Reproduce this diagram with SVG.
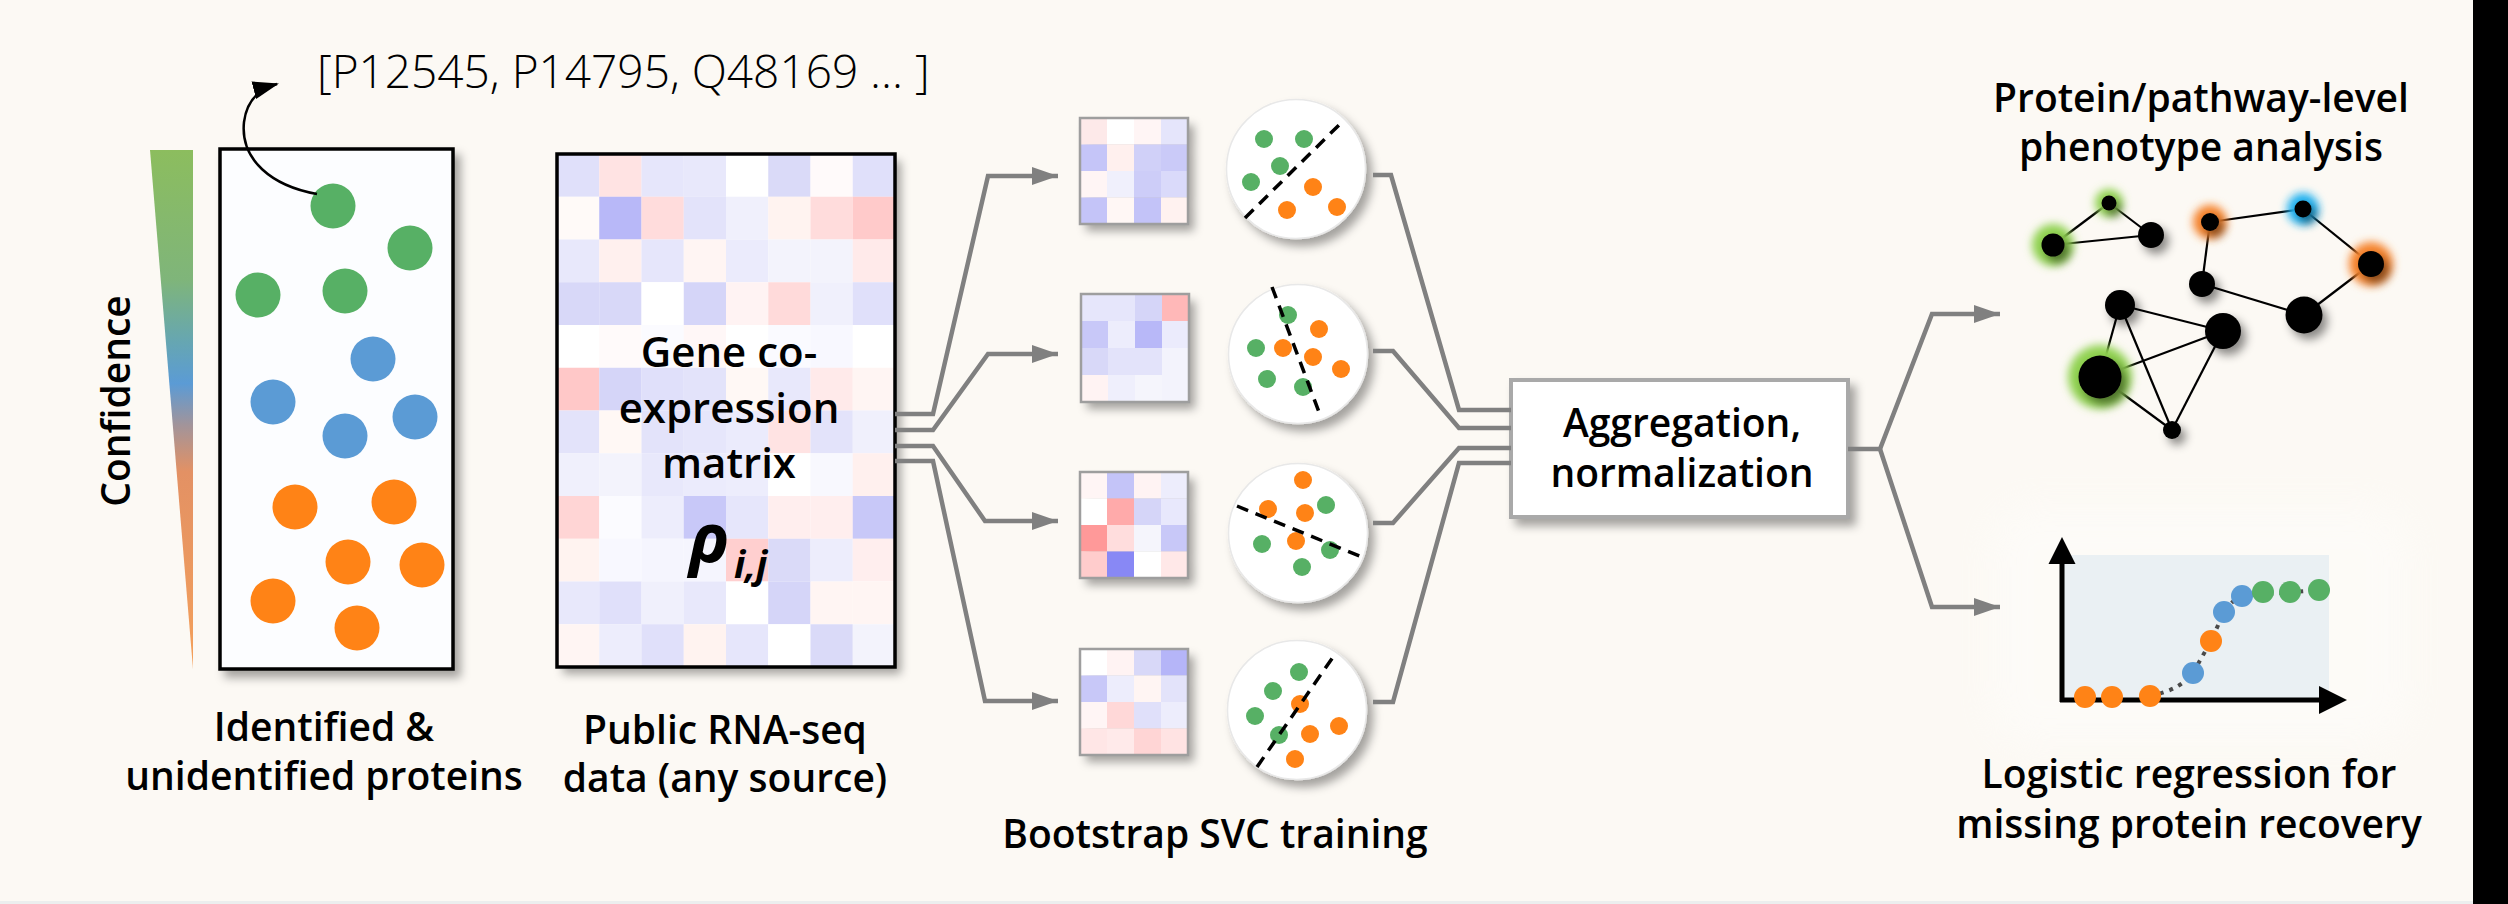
<svg xmlns="http://www.w3.org/2000/svg" width="2508" height="904" viewBox="0 0 2508 904">
<defs>
<style>
.lbl{font-family:"Open Sans","Noto Sans","DejaVu Sans",sans-serif;font-size:39px;font-weight:600;fill:#000;text-anchor:middle}
.mtx{font-family:"Open Sans","Noto Sans","DejaVu Sans",sans-serif;font-size:42px;font-weight:600;fill:#000;text-anchor:middle}
.conn{fill:none;stroke:#808080;stroke-width:4.5;stroke-linejoin:miter}
.g{fill:#57b065}.b{fill:#5b9bd5}.o{fill:#ff8316}
.sd{fill:none;stroke:#000;stroke-width:3.5;stroke-dasharray:12 8}
.svc{fill:#fff;stroke:#e8e8e8;stroke-width:1.5}
.sm{stroke:#9e9e9e;stroke-width:2.5;fill:none}
.edge{stroke:#000;stroke-width:2.2}
.nd{fill:#000}
</style>
<filter id="shadow" x="-20%" y="-20%" width="150%" height="150%">
<feDropShadow dx="6" dy="7" stdDeviation="5" flood-color="#000" flood-opacity="0.35"/>
</filter>
<filter id="nshadow" x="-60%" y="-60%" width="250%" height="250%">
<feDropShadow dx="5" dy="6" stdDeviation="5" flood-color="#000" flood-opacity="0.45"/>
</filter>
<filter id="glow" x="-80%" y="-80%" width="260%" height="260%">
<feGaussianBlur stdDeviation="4.5"/>
</filter>
<filter id="soft" x="-20%" y="-20%" width="140%" height="140%">
<feGaussianBlur stdDeviation="18"/>
</filter>
<linearGradient id="conf" x1="0" y1="150" x2="0" y2="669" gradientUnits="userSpaceOnUse">
<stop offset="0" stop-color="#8cbd5e"/>
<stop offset="0.25" stop-color="#7fb57a"/>
<stop offset="0.37" stop-color="#66a6b2"/>
<stop offset="0.45" stop-color="#5b9bd5"/>
<stop offset="0.53" stop-color="#a2949a"/>
<stop offset="0.62" stop-color="#e39164"/>
<stop offset="1" stop-color="#f4a05a"/>
</linearGradient>
<marker id="arr" markerUnits="userSpaceOnUse" markerWidth="26" markerHeight="18" refX="26" refY="9" orient="auto">
<path d="M0,0 L26,9 L0,18 z" fill="#808080"/>
</marker>
<marker id="arrk" markerUnits="userSpaceOnUse" markerWidth="26" markerHeight="18" refX="24" refY="9" orient="auto">
<path d="M0,0 L26,9 L0,18 z" fill="#000"/>
</marker>
</defs>

<rect x="0" y="0" width="2473" height="904" fill="#fcf9f4"/>
<rect x="0" y="901" width="2473" height="3" fill="#eceeee"/>
<rect x="2473" y="0" width="35" height="904" fill="#000"/>

<g id="confidence">
<polygon points="150,150 193,150 193,669" fill="url(#conf)"/>
<text class="lbl" transform="translate(130,401) rotate(-90)">Confidence</text>
</g>

<g id="proteins">
<rect x="220" y="149" width="233" height="520" fill="#fcfdff" stroke="#000" stroke-width="3.5" filter="url(#shadow)"/>
<circle class="g" cx="333" cy="206" r="22.5"/>
<circle class="g" cx="410" cy="248" r="22.5"/>
<circle class="g" cx="258" cy="295" r="22.5"/>
<circle class="g" cx="345" cy="291" r="22.5"/>
<circle class="b" cx="373" cy="359" r="22.5"/>
<circle class="b" cx="273" cy="402" r="22.5"/>
<circle class="b" cx="345" cy="436" r="22.5"/>
<circle class="b" cx="415" cy="417" r="22.5"/>
<circle class="o" cx="295" cy="507" r="22.5"/>
<circle class="o" cx="394" cy="502" r="22.5"/>
<circle class="o" cx="348" cy="562" r="22.5"/>
<circle class="o" cx="422" cy="565" r="22.5"/>
<circle class="o" cx="273" cy="601" r="22.5"/>
<circle class="o" cx="357" cy="628" r="22.5"/>
<text class="lbl" x="324" y="741">Identified &amp;</text>
<text class="lbl" x="324" y="790">unidentified proteins</text>
</g>

<g id="id-list">
<path d="M317,194 C272,186 240,160 244,122 C247,98 262,88 277,84" fill="none" stroke="#000" stroke-width="2.5" marker-end="url(#arrk)"/>
<text x="317" y="88" font-family="Open Sans, Noto Sans, DejaVu Sans, sans-serif" font-size="46" font-weight="300" fill="#000">[P12545, P14795, Q48169 ... ]</text>
</g>

<g id="coexpression-matrix">
<rect x="557" y="154" width="338" height="513" fill="#fff" filter="url(#shadow)"/>
<g transform="translate(557,154)">
<rect x="0" y="0" width="42.3" height="42.8" fill="#e0e0fa"/><rect x="42.25" y="0" width="42.3" height="42.8" fill="#ffe3e3"/><rect x="84.5" y="0" width="42.3" height="42.8" fill="#e6e6fb"/><rect x="126.75" y="0" width="42.3" height="42.8" fill="#e8e8fb"/><rect x="169" y="0" width="42.3" height="42.8" fill="#ffffff"/><rect x="211.25" y="0" width="42.3" height="42.8" fill="#dadaf8"/><rect x="253.5" y="0" width="42.3" height="42.8" fill="#fffafa"/><rect x="295.75" y="0" width="42.3" height="42.8" fill="#e0e0fa"/>
<rect x="0" y="42.75" width="42.3" height="42.8" fill="#fffaf8"/><rect x="42.25" y="42.75" width="42.3" height="42.8" fill="#b8b8f8"/><rect x="84.5" y="42.75" width="42.3" height="42.8" fill="#ffdcdc"/><rect x="126.75" y="42.75" width="42.3" height="42.8" fill="#e3e3fa"/><rect x="169" y="42.75" width="42.3" height="42.8" fill="#f0f0fc"/><rect x="211.25" y="42.75" width="42.3" height="42.8" fill="#fff3f0"/><rect x="253.5" y="42.75" width="42.3" height="42.8" fill="#ffdcdc"/><rect x="295.75" y="42.75" width="42.3" height="42.8" fill="#ffcaca"/>
<rect x="0" y="85.5" width="42.3" height="42.8" fill="#e8e8fb"/><rect x="42.25" y="85.5" width="42.3" height="42.8" fill="#fff0ee"/><rect x="84.5" y="85.5" width="42.3" height="42.8" fill="#e6e6fb"/><rect x="126.75" y="85.5" width="42.3" height="42.8" fill="#fff5f3"/><rect x="169" y="85.5" width="42.3" height="42.8" fill="#ebebfc"/><rect x="211.25" y="85.5" width="42.3" height="42.8" fill="#f3f3fc"/><rect x="253.5" y="85.5" width="42.3" height="42.8" fill="#f3f3fc"/><rect x="295.75" y="85.5" width="42.3" height="42.8" fill="#ffeaea"/>
<rect x="0" y="128.25" width="42.3" height="42.8" fill="#d8d8f8"/><rect x="42.25" y="128.25" width="42.3" height="42.8" fill="#d8d8f8"/><rect x="84.5" y="128.25" width="42.3" height="42.8" fill="#ffffff"/><rect x="126.75" y="128.25" width="42.3" height="42.8" fill="#d5d5f8"/><rect x="169" y="128.25" width="42.3" height="42.8" fill="#fff3f3"/><rect x="211.25" y="128.25" width="42.3" height="42.8" fill="#ffdada"/><rect x="253.5" y="128.25" width="42.3" height="42.8" fill="#f0f0fc"/><rect x="295.75" y="128.25" width="42.3" height="42.8" fill="#e0e0fa"/>
<rect x="0" y="171" width="42.3" height="42.8" fill="#ffffff"/><rect x="42.25" y="171" width="42.3" height="42.8" fill="#fffafa"/><rect x="84.5" y="171" width="42.3" height="42.8" fill="#fbfbff"/><rect x="126.75" y="171" width="42.3" height="42.8" fill="#fff7f7"/><rect x="169" y="171" width="42.3" height="42.8" fill="#ffffff"/><rect x="211.25" y="171" width="42.3" height="42.8" fill="#fafaff"/><rect x="253.5" y="171" width="42.3" height="42.8" fill="#f8f8ff"/><rect x="295.75" y="171" width="42.3" height="42.8" fill="#ffffff"/>
<rect x="0" y="213.75" width="42.3" height="42.8" fill="#ffc8c8"/><rect x="42.25" y="213.75" width="42.3" height="42.8" fill="#d5d5f8"/><rect x="84.5" y="213.75" width="42.3" height="42.8" fill="#e0e0fa"/><rect x="126.75" y="213.75" width="42.3" height="42.8" fill="#e3e3fa"/><rect x="169" y="213.75" width="42.3" height="42.8" fill="#fff8f5"/><rect x="211.25" y="213.75" width="42.3" height="42.8" fill="#e8e8fb"/><rect x="253.5" y="213.75" width="42.3" height="42.8" fill="#ffeaea"/><rect x="295.75" y="213.75" width="42.3" height="42.8" fill="#fff5f3"/>
<rect x="0" y="256.5" width="42.3" height="42.8" fill="#e3e3fa"/><rect x="42.25" y="256.5" width="42.3" height="42.8" fill="#fff8f5"/><rect x="84.5" y="256.5" width="42.3" height="42.8" fill="#e3e3fa"/><rect x="126.75" y="256.5" width="42.3" height="42.8" fill="#e6e6fb"/><rect x="169" y="256.5" width="42.3" height="42.8" fill="#ebebfc"/><rect x="211.25" y="256.5" width="42.3" height="42.8" fill="#ffe3e3"/><rect x="253.5" y="256.5" width="42.3" height="42.8" fill="#e3e3fa"/><rect x="295.75" y="256.5" width="42.3" height="42.8" fill="#f0f0fc"/>
<rect x="0" y="299.25" width="42.3" height="42.8" fill="#f0f0fc"/><rect x="42.25" y="299.25" width="42.3" height="42.8" fill="#f3f3fc"/><rect x="84.5" y="299.25" width="42.3" height="42.8" fill="#e8e8fb"/><rect x="126.75" y="299.25" width="42.3" height="42.8" fill="#ebebfc"/><rect x="169" y="299.25" width="42.3" height="42.8" fill="#ededfc"/><rect x="211.25" y="299.25" width="42.3" height="42.8" fill="#ffffff"/><rect x="253.5" y="299.25" width="42.3" height="42.8" fill="#f8f8fe"/><rect x="295.75" y="299.25" width="42.3" height="42.8" fill="#fff0ee"/>
<rect x="0" y="342" width="42.3" height="42.8" fill="#ffd5d5"/><rect x="42.25" y="342" width="42.3" height="42.8" fill="#fbfbff"/><rect x="84.5" y="342" width="42.3" height="42.8" fill="#ededfc"/><rect x="126.75" y="342" width="42.3" height="42.8" fill="#c8c8f8"/><rect x="169" y="342" width="42.3" height="42.8" fill="#e6e6fb"/><rect x="211.25" y="342" width="42.3" height="42.8" fill="#ffeeee"/><rect x="253.5" y="342" width="42.3" height="42.8" fill="#ffeeee"/><rect x="295.75" y="342" width="42.3" height="42.8" fill="#c8c8f8"/>
<rect x="0" y="384.75" width="42.3" height="42.8" fill="#fff3f0"/><rect x="42.25" y="384.75" width="42.3" height="42.8" fill="#f8f8ff"/><rect x="84.5" y="384.75" width="42.3" height="42.8" fill="#f5f5fe"/><rect x="126.75" y="384.75" width="42.3" height="42.8" fill="#f5f5fe"/><rect x="169" y="384.75" width="42.3" height="42.8" fill="#ffcfcf"/><rect x="211.25" y="384.75" width="42.3" height="42.8" fill="#dadaf8"/><rect x="253.5" y="384.75" width="42.3" height="42.8" fill="#ededfc"/><rect x="295.75" y="384.75" width="42.3" height="42.8" fill="#ffeeee"/>
<rect x="0" y="427.5" width="42.3" height="42.8" fill="#e8e8fb"/><rect x="42.25" y="427.5" width="42.3" height="42.8" fill="#e0e0fa"/><rect x="84.5" y="427.5" width="42.3" height="42.8" fill="#f0f0fc"/><rect x="126.75" y="427.5" width="42.3" height="42.8" fill="#e8e8fb"/><rect x="169" y="427.5" width="42.3" height="42.8" fill="#ffffff"/><rect x="211.25" y="427.5" width="42.3" height="42.8" fill="#d5d5f8"/><rect x="253.5" y="427.5" width="42.3" height="42.8" fill="#fff5f3"/><rect x="295.75" y="427.5" width="42.3" height="42.8" fill="#fff5f3"/>
<rect x="0" y="470.25" width="42.3" height="42.8" fill="#fff5f3"/><rect x="42.25" y="470.25" width="42.3" height="42.8" fill="#ededfc"/><rect x="84.5" y="470.25" width="42.3" height="42.8" fill="#e0e0fa"/><rect x="126.75" y="470.25" width="42.3" height="42.8" fill="#fff3f0"/><rect x="169" y="470.25" width="42.3" height="42.8" fill="#e6e6fb"/><rect x="211.25" y="470.25" width="42.3" height="42.8" fill="#ffffff"/><rect x="253.5" y="470.25" width="42.3" height="42.8" fill="#dadaf8"/><rect x="295.75" y="470.25" width="42.3" height="42.8" fill="#f3f3fc"/>
</g>
<rect x="557" y="154" width="338" height="513" fill="none" stroke="#000" stroke-width="3.5"/>
<text class="mtx" x="729" y="367">Gene co-</text>
<text class="mtx" x="729" y="423">expression</text>
<text class="mtx" x="729" y="478">matrix</text>
<text x="689" y="562" font-family="Open Sans, Noto Sans, DejaVu Sans, sans-serif" font-size="68" font-weight="700" font-style="italic" fill="#000">ρ</text>
<text x="734" y="578" font-family="Open Sans, Noto Sans, DejaVu Sans, sans-serif" font-size="38" font-weight="700" font-style="italic" fill="#000">i,j</text>
<text class="lbl" x="725" y="744">Public RNA-seq</text>
<text class="lbl" x="725" y="792">data (any source)</text>
</g>

<g id="bootstrap-1">
<g filter="url(#shadow)">
<rect x="1080" y="118" width="27" height="26.5" fill="#fde9e9"/><rect x="1107" y="118" width="27" height="26.5" fill="#ffffff"/><rect x="1134" y="118" width="27" height="26.5" fill="#fff5f5"/><rect x="1161" y="118" width="27" height="26.5" fill="#e5e5fb"/>
<rect x="1080" y="144.5" width="27" height="26.5" fill="#c5c5f8"/><rect x="1107" y="144.5" width="27" height="26.5" fill="#fff0ee"/><rect x="1134" y="144.5" width="27" height="26.5" fill="#d0d0f8"/><rect x="1161" y="144.5" width="27" height="26.5" fill="#cacaf8"/>
<rect x="1080" y="171" width="27" height="26.5" fill="#fff5f5"/><rect x="1107" y="171" width="27" height="26.5" fill="#f0f0fc"/><rect x="1134" y="171" width="27" height="26.5" fill="#cdcdf8"/><rect x="1161" y="171" width="27" height="26.5" fill="#dadafa"/>
<rect x="1080" y="197.5" width="27" height="26.5" fill="#c4c4f8"/><rect x="1107" y="197.5" width="27" height="26.5" fill="#fff7f5"/><rect x="1134" y="197.5" width="27" height="26.5" fill="#c3c3f8"/><rect x="1161" y="197.5" width="27" height="26.5" fill="#fff2f0"/>
</g>
<rect class="sm" x="1080" y="118" width="108" height="106"/>
<circle class="svc" cx="1296" cy="169" r="69.5" filter="url(#shadow)"/>
<circle class="g" cx="1264" cy="139" r="9"/><circle class="g" cx="1304" cy="139" r="9"/><circle class="g" cx="1280" cy="166" r="9"/><circle class="g" cx="1251" cy="182" r="9"/>
<circle class="o" cx="1313" cy="187" r="9"/><circle class="o" cx="1287" cy="210" r="9"/><circle class="o" cx="1337" cy="207" r="9"/>
<line class="sd" x1="1245" y1="218" x2="1340" y2="124"/>
</g>

<g id="bootstrap-2">
<g filter="url(#shadow)">
<rect x="1081" y="294" width="27" height="27" fill="#e6e6fb"/><rect x="1108" y="294" width="27" height="27" fill="#e6e6fb"/><rect x="1135" y="294" width="27" height="27" fill="#d5d5f8"/><rect x="1162" y="294" width="27" height="27" fill="#ffb8b8"/>
<rect x="1081" y="321" width="27" height="27" fill="#c8c8f8"/><rect x="1108" y="321" width="27" height="27" fill="#ededfc"/><rect x="1135" y="321" width="27" height="27" fill="#b8b8f8"/><rect x="1162" y="321" width="27" height="27" fill="#ebebfc"/>
<rect x="1081" y="348" width="27" height="27" fill="#d8d8f8"/><rect x="1108" y="348" width="27" height="27" fill="#e3e3fa"/><rect x="1135" y="348" width="27" height="27" fill="#e3e3fa"/><rect x="1162" y="348" width="27" height="27" fill="#f3f3fc"/>
<rect x="1081" y="375" width="27" height="27" fill="#fff3f3"/><rect x="1108" y="375" width="27" height="27" fill="#efeffc"/><rect x="1135" y="375" width="27" height="27" fill="#f5f5fc"/><rect x="1162" y="375" width="27" height="27" fill="#f3f3fc"/>
</g>
<rect class="sm" x="1081" y="294" width="108" height="108"/>
<circle class="svc" cx="1298" cy="354" r="69.5" filter="url(#shadow)"/>
<circle class="g" cx="1288" cy="315" r="9"/><circle class="g" cx="1256" cy="348" r="9"/><circle class="g" cx="1267" cy="379" r="9"/><circle class="g" cx="1303" cy="387" r="9"/>
<circle class="o" cx="1319" cy="329" r="9"/><circle class="o" cx="1283" cy="348" r="9"/><circle class="o" cx="1313" cy="357" r="9"/><circle class="o" cx="1341" cy="369" r="9"/>
<line class="sd" x1="1272" y1="287" x2="1319" y2="412"/>
</g>

<g id="bootstrap-3">
<g filter="url(#shadow)">
<rect x="1080" y="472" width="27" height="26.5" fill="#fff5f5"/><rect x="1107" y="472" width="27" height="26.5" fill="#c4c4f8"/><rect x="1134" y="472" width="27" height="26.5" fill="#fff3f3"/><rect x="1161" y="472" width="27" height="26.5" fill="#ededfc"/>
<rect x="1080" y="498.5" width="27" height="26.5" fill="#ffffff"/><rect x="1107" y="498.5" width="27" height="26.5" fill="#ffaaaa"/><rect x="1134" y="498.5" width="27" height="26.5" fill="#d5d5f8"/><rect x="1161" y="498.5" width="27" height="26.5" fill="#e8e8fc"/>
<rect x="1080" y="525" width="27" height="26.5" fill="#ff9999"/><rect x="1107" y="525" width="27" height="26.5" fill="#ffdddd"/><rect x="1134" y="525" width="27" height="26.5" fill="#f5f5fc"/><rect x="1161" y="525" width="27" height="26.5" fill="#c8c8f8"/>
<rect x="1080" y="551.5" width="27" height="26.5" fill="#ffcccc"/><rect x="1107" y="551.5" width="27" height="26.5" fill="#8888f5"/><rect x="1134" y="551.5" width="27" height="26.5" fill="#ffffff"/><rect x="1161" y="551.5" width="27" height="26.5" fill="#ffe8e8"/>
</g>
<rect class="sm" x="1080" y="472" width="108" height="106"/>
<circle class="svc" cx="1298" cy="533" r="69.5" filter="url(#shadow)"/>
<circle class="o" cx="1303" cy="480" r="9"/><circle class="o" cx="1268" cy="509" r="9"/><circle class="o" cx="1305" cy="513" r="9"/><circle class="o" cx="1296" cy="541" r="9"/>
<circle class="g" cx="1326" cy="505" r="9"/><circle class="g" cx="1262" cy="544" r="9"/><circle class="g" cx="1330" cy="550" r="9"/><circle class="g" cx="1302" cy="567" r="9"/>
<line class="sd" x1="1237" y1="506" x2="1362" y2="557"/>
</g>

<g id="bootstrap-4">
<g filter="url(#shadow)">
<rect x="1080" y="649" width="27" height="26.5" fill="#ffffff"/><rect x="1107" y="649" width="27" height="26.5" fill="#fff3f3"/><rect x="1134" y="649" width="27" height="26.5" fill="#d8d8f8"/><rect x="1161" y="649" width="27" height="26.5" fill="#b5b5f8"/>
<rect x="1080" y="675.5" width="27" height="26.5" fill="#c8c8f8"/><rect x="1107" y="675.5" width="27" height="26.5" fill="#ededfc"/><rect x="1134" y="675.5" width="27" height="26.5" fill="#fff5f3"/><rect x="1161" y="675.5" width="27" height="26.5" fill="#e3e3fa"/>
<rect x="1080" y="702" width="27" height="26.5" fill="#fff5f5"/><rect x="1107" y="702" width="27" height="26.5" fill="#ffd8d8"/><rect x="1134" y="702" width="27" height="26.5" fill="#e0e0fa"/><rect x="1161" y="702" width="27" height="26.5" fill="#ededfc"/>
<rect x="1080" y="728.5" width="27" height="26.5" fill="#ffe6e6"/><rect x="1107" y="728.5" width="27" height="26.5" fill="#ffeaea"/><rect x="1134" y="728.5" width="27" height="26.5" fill="#ffd5d5"/><rect x="1161" y="728.5" width="27" height="26.5" fill="#ffe3e3"/>
</g>
<rect class="sm" x="1080" y="649" width="108" height="106"/>
<circle class="svc" cx="1297" cy="710" r="69.5" filter="url(#shadow)"/>
<circle class="g" cx="1299" cy="672" r="9"/><circle class="g" cx="1273" cy="691" r="9"/><circle class="g" cx="1255" cy="716" r="9"/><circle class="g" cx="1279" cy="735" r="9"/>
<circle class="o" cx="1300" cy="704" r="9"/><circle class="o" cx="1310" cy="734" r="9"/><circle class="o" cx="1339" cy="726" r="9"/><circle class="o" cx="1295" cy="759" r="9"/>
<line class="sd" x1="1257" y1="767" x2="1333" y2="657"/>
<text class="lbl" x="1215" y="848">Bootstrap SVC training</text>
</g>

<g id="aggregation">
<rect x="1511" y="380" width="337" height="137" fill="#fff" stroke="#a9a9a9" stroke-width="4" filter="url(#shadow)"/>
<text class="lbl" x="1682" y="437">Aggregation,</text>
<text class="lbl" x="1682" y="487">normalization</text>
</g>

<g id="network">
<text class="lbl" x="2201" y="112">Protein/pathway-level</text>
<text class="lbl" x="2201" y="161">phenotype analysis</text>
<g class="edge">
<line x1="2109" y1="203" x2="2053" y2="245"/><line x1="2109" y1="203" x2="2151" y2="235"/><line x1="2053" y1="245" x2="2151" y2="235"/>
<line x1="2210" y1="222" x2="2303" y2="209"/><line x1="2303" y1="209" x2="2371" y2="264"/><line x1="2371" y1="264" x2="2304" y2="315"/><line x1="2304" y1="315" x2="2202" y2="284"/><line x1="2202" y1="284" x2="2210" y2="222"/>
<line x1="2120" y1="305" x2="2223" y2="331"/><line x1="2120" y1="305" x2="2100" y2="377"/><line x1="2120" y1="305" x2="2172" y2="430"/><line x1="2223" y1="331" x2="2100" y2="377"/><line x1="2223" y1="331" x2="2172" y2="430"/><line x1="2100" y1="377" x2="2172" y2="430"/>
</g>
<g filter="url(#glow)">
<circle cx="2109" cy="203" r="14" fill="#8fd14f"/>
<circle cx="2053" cy="245" r="21" fill="#8fd14f"/>
<circle cx="2210" cy="222" r="17" fill="#f5822a"/>
<circle cx="2303" cy="209" r="16" fill="#1fb0f0"/>
<circle cx="2371" cy="264" r="22" fill="#f5822a"/>
<circle cx="2100" cy="377" r="32" fill="#8fd14f"/>
</g>
<g filter="url(#nshadow)">
<circle class="nd" cx="2109" cy="203" r="7.5"/>
<circle class="nd" cx="2053" cy="245" r="11.5"/>
<circle class="nd" cx="2151" cy="235" r="13"/>
<circle class="nd" cx="2210" cy="222" r="9"/>
<circle class="nd" cx="2303" cy="209" r="8.5"/>
<circle class="nd" cx="2371" cy="264" r="13"/>
<circle class="nd" cx="2202" cy="284" r="13"/>
<circle class="nd" cx="2304" cy="315" r="18.5"/>
<circle class="nd" cx="2120" cy="305" r="15"/>
<circle class="nd" cx="2223" cy="331" r="18"/>
<circle class="nd" cx="2100" cy="377" r="21.5"/>
<circle class="nd" cx="2172" cy="430" r="9"/>
</g>
</g>

<g id="logistic">
<rect x="1990" y="505" width="420" height="240" rx="40" fill="#ffffff" opacity="0.35" filter="url(#soft)"/>
<rect x="2064" y="555" width="265" height="145" fill="#eaf0f3"/>
<path d="M2150,696 Q2180,690 2193,673 L2211,641 L2224,612 Q2232,600 2242,596 L2319,590" fill="none" stroke="#4a4a4a" stroke-width="4" stroke-dasharray="4 6"/>
<line x1="2062" y1="702" x2="2062" y2="560" stroke="#000" stroke-width="5"/>
<polygon points="2048.5,564 2062,537 2075.5,564" fill="#000"/>
<line x1="2060" y1="700" x2="2322" y2="700" stroke="#000" stroke-width="5"/>
<polygon points="2319,686 2347,700 2319,714" fill="#000"/>
<circle class="o" cx="2085" cy="697" r="11"/><circle class="o" cx="2112" cy="697" r="11"/><circle class="o" cx="2150" cy="696" r="11"/><circle class="o" cx="2211" cy="641" r="11"/>
<circle class="b" cx="2193" cy="673" r="11"/><circle class="b" cx="2224" cy="612" r="11"/><circle class="b" cx="2242" cy="596" r="11"/>
<circle class="g" cx="2263" cy="592" r="11"/><circle class="g" cx="2290" cy="592" r="11"/><circle class="g" cx="2319" cy="590" r="11"/>
<text class="lbl" x="2189" y="788">Logistic regression for</text>
<text class="lbl" x="2189" y="838">missing protein recovery</text>
</g>

<g id="connectors">
<path class="conn" d="M895,414 L933,414 L988,176 L1058,176" marker-end="url(#arr)"/>
<path class="conn" d="M895,430 L933,430 L988,354 L1058,354" marker-end="url(#arr)"/>
<path class="conn" d="M895,446 L933,446 L985,521 L1058,521" marker-end="url(#arr)"/>
<path class="conn" d="M895,461 L933,461 L985,701 L1058,701" marker-end="url(#arr)"/>
<path class="conn" d="M1373,175 L1391,175 L1459,410 L1511,410"/>
<path class="conn" d="M1373,351 L1393,351 L1459,428 L1511,428"/>
<path class="conn" d="M1373,523 L1393,523 L1459,448 L1511,448"/>
<path class="conn" d="M1373,702 L1393,702 L1459,463 L1511,463"/>
<path class="conn" d="M1848,449 L1880,449 L1932,314 L2000,314" marker-end="url(#arr)"/>
<path class="conn" d="M1880,449 L1932,607 L2000,607" marker-end="url(#arr)"/>
</g>
</svg>
